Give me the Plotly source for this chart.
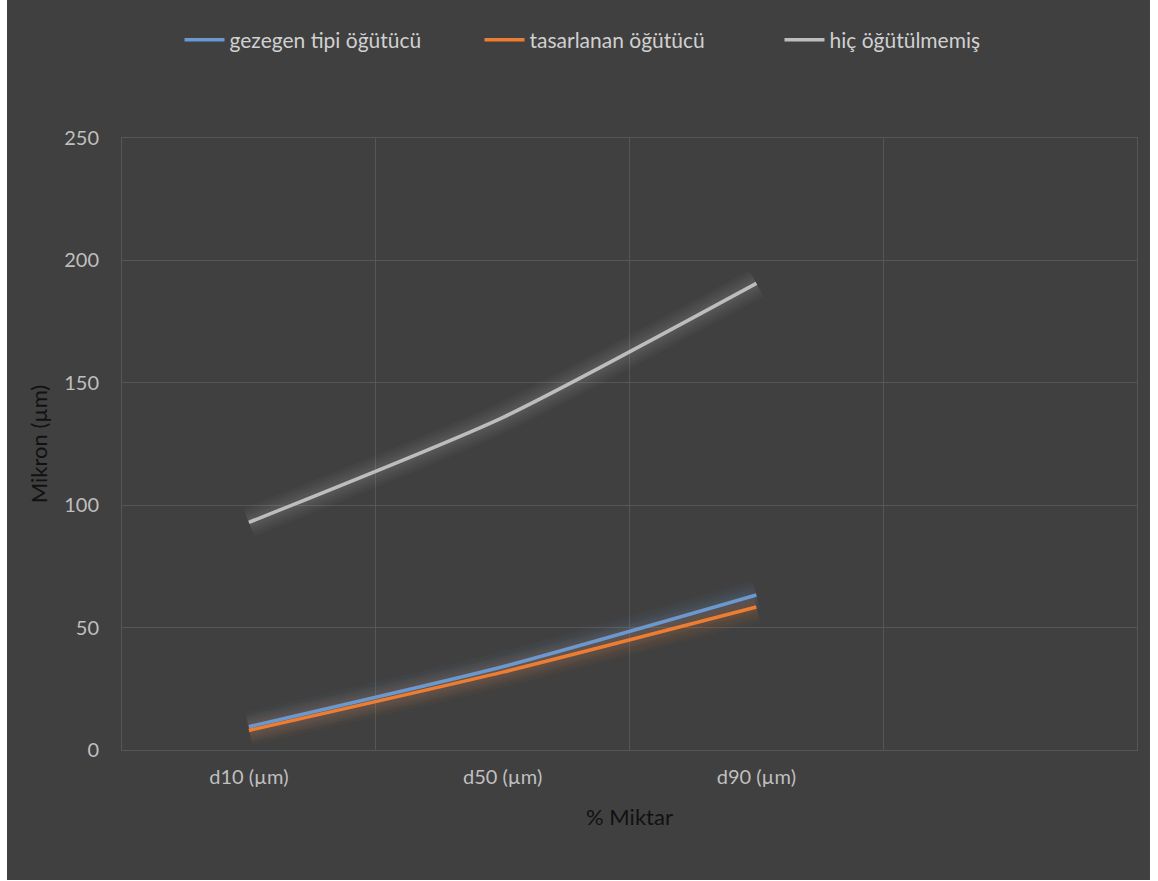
import plotly.graph_objects as go

# Particle size distribution by grinding method
categories = ["d10 (µm)", "d50 (µm)", "d90 (µm)", " "]
gezegen = [9.5, 34, 63.3]
tasarlanan = [8, 31.8, 58.4]
ogutulmemis = [93, 135.8, 190.6]

series = [
    ("gezegen tipi öğütücü", gezegen, "#6A98CF"),
    ("tasarlanan öğütücü", tasarlanan, "#ED7D31"),
    ("hiç öğütülmemiş", ogutulmemis, "#BDBDBD"),
]

FONT = "Lato, 'Open Sans', sans-serif"
GRID = "#565656"
fig = go.Figure()

# soft glow under each line
for name, vals, color in series:
    for w in (30, 24, 19, 14, 10):
        fig.add_trace(go.Scatter(
            x=categories[:len(vals)], y=vals, mode="lines",
            line=dict(color=color, width=w, shape="spline", smoothing=0.6),
            opacity=0.035, showlegend=False, hoverinfo="skip",
        ))

for name, vals, color in series:
    fig.add_trace(go.Scatter(
        x=categories[:len(vals)], y=vals, mode="lines", name=name,
        line=dict(color=color, width=3.5, shape="spline", smoothing=0.6),
    ))

# dark chart panel
fig.add_shape(type="rect", xref="paper", yref="paper",
              x0=-0.1133, x1=1.0128, y0=-0.2124, y1=1.2255,
              fillcolor="#404040", line=dict(width=0), layer="below")

fig.update_layout(
    width=1158, height=881,
    margin=dict(l=122, r=21, t=138, b=131),
    paper_bgcolor="white", plot_bgcolor="#404040",
    font=dict(family=FONT, color="#BFBFBF", size=20),
    legend=dict(orientation="h", x=0.5, xanchor="center", y=1.160, yanchor="middle",
                font=dict(size=21, color="#D0D0D0"), bgcolor="rgba(0,0,0,0)",
                itemwidth=40, entrywidth=245, entrywidthmode="pixels",
                traceorder="normal"),
    xaxis=dict(type="category", categoryorder="array", categoryarray=categories,
               range=[-0.5, 3.5], tickson="boundaries", showgrid=True,
               gridcolor=GRID, gridwidth=1, ticks="", zeroline=False,
               showline=True, linecolor=GRID, linewidth=1, mirror=True,
               tickfont=dict(size=20, color="#BFBFBF"),
               ticklabelstandoff=9,
               title=dict(text="% Miktar", font=dict(size=22, color="#111111"), standoff=22)),
    yaxis=dict(range=[0, 250], dtick=50, showgrid=True, gridcolor=GRID,
               gridwidth=1, zeroline=False, ticks="",
               showline=True, linecolor=GRID, linewidth=1, mirror=True,
               ticklabelstandoff=18, tickfont=dict(size=20, color="#BFBFBF"),
               title=dict(text="Mikron (µm)", font=dict(size=22, color="#111111"), standoff=10)),
)

fig.write_html("out.html")
